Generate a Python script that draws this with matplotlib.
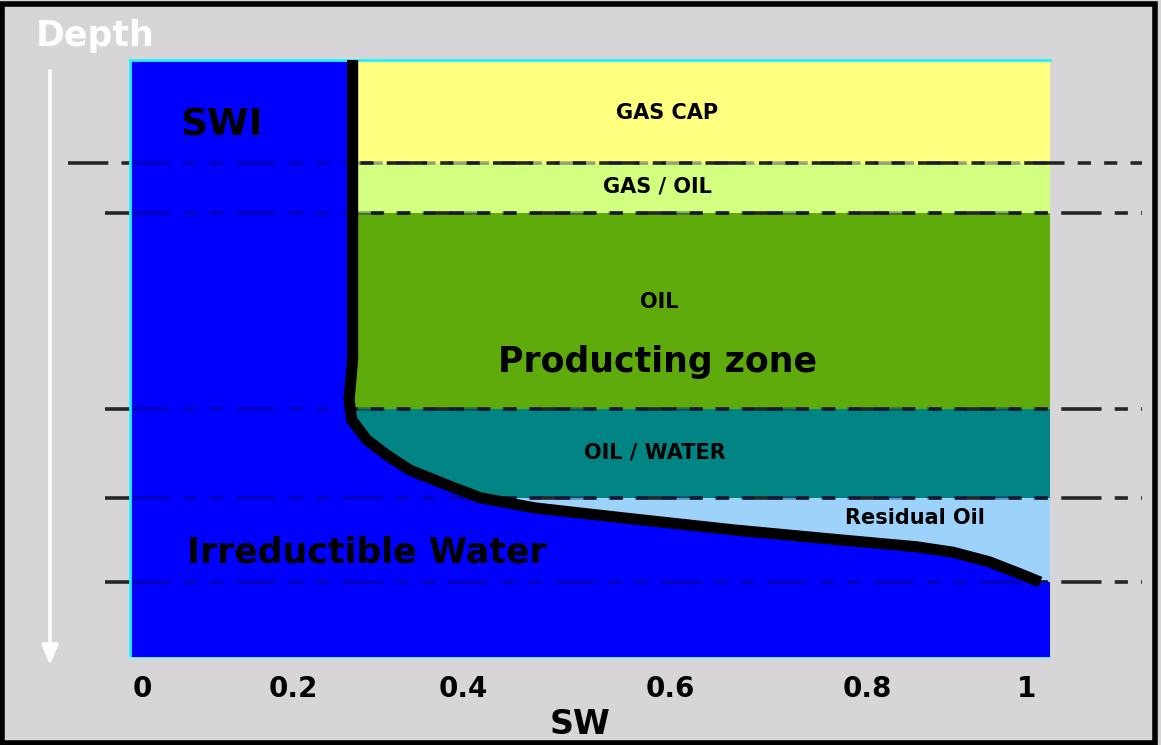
import numpy as np
import matplotlib
matplotlib.use("Agg")
import matplotlib.pyplot as plt
from matplotlib.patches import Rectangle

plt.rcParams['font.family'] = ['DejaVu Sans']
plt.rcParams['lines.scale_dashes'] = False

# Datos: zonas (profundidad normalizada, 0 arriba, 1 abajo)
zone_names = ["GAS CAP", "GAS / OIL", "OIL", "OIL / WATER", "Residual Oil"]
zone_top = [0.0, 0.172, 0.256, 0.584, 0.732]
zone_bottom = [0.172, 0.256, 0.584, 0.732, 0.873]
zone_colors = ["#ffff80", "#d2ff80", "#5fab0c", "#008484", "#9dd3fa"]
contacts = [0.172, 0.256, 0.584, 0.732, 0.873]

# Curva Sw vs profundidad
curve_sw = [0.238, 0.238, 0.236, 0.234, 0.237, 0.254, 0.277, 0.303, 0.345,
            0.382, 0.444, 0.546, 0.670, 0.793, 0.875, 0.916, 0.957, 0.990, 1.015]
curve_depth = [0.0, 0.50, 0.535, 0.569, 0.602, 0.635, 0.661, 0.686, 0.711,
               0.732, 0.749, 0.766, 0.786, 0.803, 0.814, 0.823, 0.839, 0.858, 0.873]

tick_pos = [0.0, 0.171, 0.363, 0.597, 0.819, 1.0]
tick_labels = ["0", "0.2", "0.4", "0.6", "0.8", "1"]

bg = "#d8d5d8"
blue = "#0000ff"

fig = plt.figure(figsize=(11.61, 7.45), dpi=100, facecolor=bg)
ax = fig.add_axes([130/1161, 1 - 658/745, 920/1161, 598/745])
xmin, xmax = -12/885, 908/885
ax.set_xlim(xmin, xmax)
ax.set_ylim(1, 0)
ax.set_facecolor(blue)

# bandas de colores
for top, bot, col in zip(zone_top, zone_bottom, zone_colors):
    ax.axhspan(top, bot, color=col, zorder=0, lw=0)

# contactos (raya-punto)
dash = (0, (29, 9.5, 9.5, 9.5, 9.5, 9.5))
starts = [-0.084, -0.042, -0.042, -0.042, -0.042]
for y, x0 in zip(contacts, starts):
    ax.plot([x0, 1.13], [y, y], color="#262626", lw=2.6, linestyle=dash,
            clip_on=False, zorder=1)

# agua (azul) a la izquierda / debajo de la curva
ax.fill_betweenx(curve_depth, xmin, curve_sw, color=blue, lw=0, zorder=2)
ax.axhspan(contacts[-1], 1, color=blue, lw=0, zorder=2)
for y in contacts:
    ax.plot([xmin, xmax], [y, y], color="#000050", lw=2.6, linestyle=dash,
            alpha=0.35, zorder=2.5)

ax.plot(curve_sw, curve_depth, color="black", lw=8, solid_joinstyle="round",
        solid_capstyle="butt", zorder=3)

# textos
bold = dict(fontweight="bold", ha="center", va="center", color="black", zorder=4)
ax.text(0.090, 0.109, "SWI", fontsize=27, **bold)
ax.text(0.593, 0.089, "GAS CAP", fontsize=15, **bold)
ax.text(0.582, 0.212, "GAS / OIL", fontsize=15, **bold)
ax.text(0.585, 0.405, "OIL", fontsize=15, **bold)
ax.text(0.582, 0.505, "Producting zone", fontsize=25, **bold)
ax.text(0.579, 0.656, "OIL / WATER", fontsize=15, **bold)
ax.text(0.873, 0.766, "Residual Oil", fontsize=15, **bold)
ax.text(0.254, 0.824, "Irreductible Water", fontsize=25, **bold)
ax.text(0.495, 1.112, "SW", fontsize=24, clip_on=False, **bold)

ax.set_xticks(tick_pos, tick_labels, fontsize=20, fontweight="bold")
ax.set_yticks([])
ax.tick_params(axis="x", length=0, pad=12)

for s in ["left", "top"]:
    ax.spines[s].set_color("#20f0ff")
    ax.spines[s].set_linewidth(2)
ax.spines["bottom"].set_color("#a8e8f0")
ax.spines["bottom"].set_linewidth(2)
ax.spines["right"].set_visible(False)

# flecha de profundidad
fig.text(0.082, 0.952, "Depth", color="white", fontsize=25, fontweight="bold",
         ha="center", va="center")
ax.annotate("", xy=(50/1161, 1 - 668/745), xytext=(50/1161, 1 - 68/745),
            xycoords="figure fraction", textcoords="figure fraction",
            arrowprops=dict(arrowstyle="-|>,head_width=0.5,head_length=1.2",
                            color="white", lw=2.5))

# marco negro
fig.patches.append(Rectangle((0.002, 0.003), 0.993, 0.992, transform=fig.transFigure,
                             fill=False, edgecolor="black", lw=4))

fig.savefig("out.png", dpi=100, facecolor=bg)
